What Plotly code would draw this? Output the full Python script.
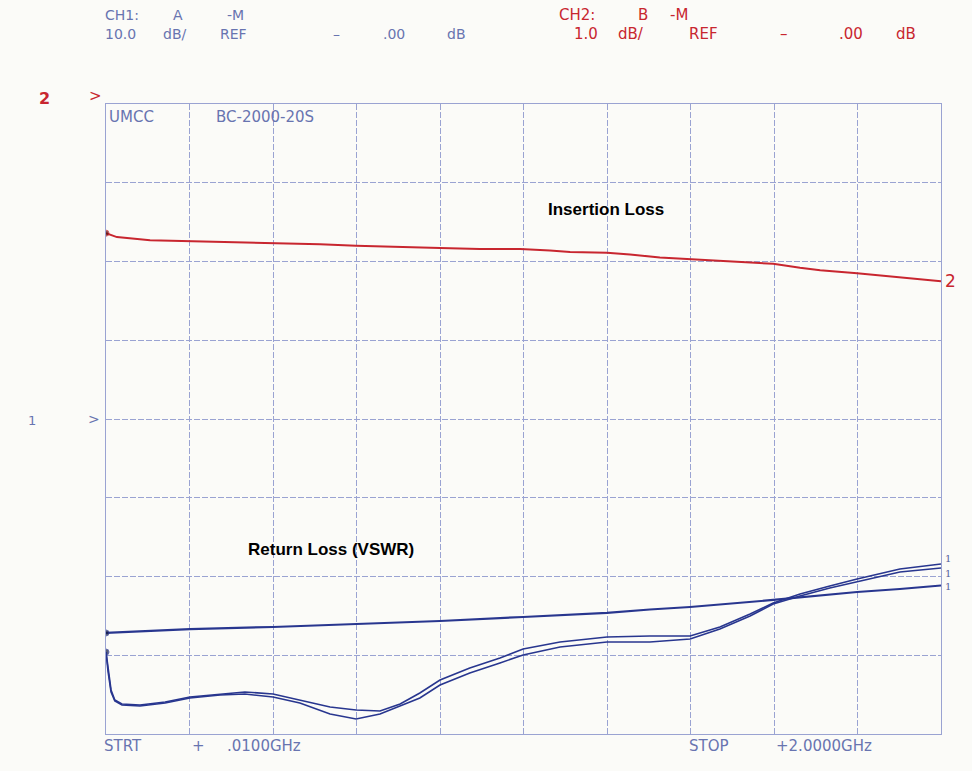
import plotly.graph_objects as go

# ---------------- data ----------------
# Insertion loss (CH2, 1 dB/div, ref 0 dB at top line)
il_freq_ghz = [0.010, 0.036, 0.115, 0.210, 0.306, 0.408, 0.520, 0.606, 0.711, 0.806,
               0.901, 0.997, 1.068, 1.116, 1.204, 1.259, 1.330, 1.402, 1.497, 1.600,
               1.664, 1.712, 1.800, 1.902, 2.000]
il_db = [-1.64, -1.69, -1.73, -1.74, -1.75, -1.77, -1.78, -1.80, -1.82, -1.83,
         -1.84, -1.84, -1.86, -1.88, -1.89, -1.91, -1.95, -1.97, -2.00, -2.03,
         -2.08, -2.11, -2.15, -2.20, -2.25]

# Return loss (CH1, 10 dB/div, ref 0 dB at centre line)
rl_a_freq_ghz = [0.010, 0.115, 0.210, 0.408, 0.606, 0.806, 1.004, 1.204, 1.306,
                 1.402, 1.600, 1.800, 1.902, 2.000]
rl_a_db = [-27.17, -26.92, -26.67, -26.41, -26.03, -25.65, -25.14, -24.63, -24.19,
           -23.87, -22.98, -21.97, -21.59, -21.14]

rl_freq_ghz = [0.010, 0.015, 0.022, 0.031, 0.048, 0.091, 0.151, 0.210, 0.282, 0.341,
               0.408, 0.472, 0.544, 0.606, 0.663, 0.711, 0.758, 0.806, 0.877, 0.949,
               1.004, 1.092, 1.204, 1.306, 1.402, 1.473, 1.545, 1.600, 1.664, 1.735,
               1.800, 1.902, 2.000]
rl_b_db = [-29.59, -31.87, -34.41, -35.68, -36.19, -36.32, -35.94, -35.30, -34.92, -34.67,
           -34.92, -35.68, -36.57, -36.95, -37.08, -36.19, -34.79, -33.14, -31.62, -30.35,
           -29.21, -28.32, -27.68, -27.56, -27.56, -26.41, -24.76, -23.37, -22.22, -21.21,
           -20.32, -19.05, -18.41]
rl_c_db = [-29.59, -32.13, -34.67, -35.81, -36.32, -36.44, -36.06, -35.43, -35.05, -34.92,
           -35.30, -36.06, -37.46, -38.10, -37.46, -36.44, -35.43, -33.78, -32.25, -30.98,
           -29.97, -28.95, -28.32, -28.32, -27.94, -26.67, -25.02, -23.49, -22.48, -21.46,
           -20.70, -19.43, -18.92]

start_ghz, stop_ghz = 0.01, 2.0
ch1_range = [-40, 40]
ch2_range = [-8, 0]

# ---------------- styling ----------------
W, H = 972, 771
L, R, T, B = 106, 31, 104, 37
PW, PH = W - L - R, H - T - B

RED = "#c8262f"
NAVY = "#28368f"
GRID = "#9aa3d2"
PEN = "#6874b0"


def px(x):
    return (x - L) / PW


def py(y):
    return (H - B - y) / PH


fig = go.Figure()

fig.add_trace(go.Scatter(x=il_freq_ghz, y=il_db, yaxis="y2", mode="lines+markers",
                         line=dict(color=RED, width=2),
                         marker=dict(size=[6] + [0] * (len(il_db) - 1), color="#5a1010"),
                         hoverinfo="skip", showlegend=False))
fig.add_trace(go.Scatter(x=rl_a_freq_ghz, y=rl_a_db, mode="lines+markers",
                         line=dict(color=NAVY, width=2.2),
                         marker=dict(size=[6] + [0] * (len(rl_a_db) - 1), color="#101840"),
                         hoverinfo="skip", showlegend=False))
fig.add_trace(go.Scatter(x=rl_freq_ghz, y=rl_b_db, mode="lines+markers",
                         line=dict(color=NAVY, width=1.6),
                         marker=dict(size=[6] + [0] * (len(rl_b_db) - 1), color="#101840"),
                         hoverinfo="skip", showlegend=False))
fig.add_trace(go.Scatter(x=rl_freq_ghz, y=rl_c_db, mode="lines",
                         line=dict(color=NAVY, width=1.6),
                         hoverinfo="skip", showlegend=False))

ann = []


def txt(s, x, y, size=15, color=PEN, family="DejaVu Sans", bold=False, anchor="left"):
    ann.append(dict(text=("<b>%s</b>" % s) if bold else s, x=px(x), y=py(y),
                    xref="paper", yref="paper", xanchor=anchor, yanchor="middle",
                    showarrow=False, borderpad=0,
                    font=dict(size=size, color=color, family=family)))


# header, CH1
for s, x in [("CH1:", 104), ("A", 172), ("-M", 226)]:
    txt(s, x, 15, 14, PEN)
for s, x in [("10.0", 104), ("dB/", 162), ("REF", 219), ("–", 332), (".00", 382), ("dB", 446)]:
    txt(s, x, 34, 14, PEN)
# header, CH2
for s, x in [("CH2:", 558), ("B", 637), ("-M", 669)]:
    txt(s, x, 15, 15, RED)
for s, x in [("1.0", 573), ("dB/", 617), ("REF", 688), ("–", 779), (".00", 838), ("dB", 895)]:
    txt(s, x, 34, 15, RED)

# reference position markers
txt("2", 38, 98, 16, RED, bold=True)
txt(">", 88, 96, 15, RED)
txt("1", 27, 420, 13, PEN)
txt(">", 87, 419, 14, PEN)

# title block inside the grid
txt("UMCC", 108, 117, 15, PEN)
txt("BC-2000-20S", 215, 117, 15, PEN)

# sweep limits
txt("STRT", 103, 746, 15, PEN)
txt("+", 191, 746, 15, PEN)
txt(".0100GHz", 226, 746, 15, PEN)
txt("STOP", 688, 746, 15, PEN)
txt("+2.0000GHz", 775, 746, 15, PEN)

# trace names
txt("Insertion Loss", 547, 210, 17, "#000000", family="Liberation Sans", bold=True)
txt("Return Loss (VSWR)", 247, 549, 17, "#000000", family="Liberation Sans", bold=True)

# trace end labels (at the trace end points)
ann.append(dict(text="2", x=il_freq_ghz[-1], y=il_db[-1], xref="x", yref="y2",
                xanchor="left", yanchor="middle", xshift=2, showarrow=False,
                font=dict(size=17, color=RED, family="DejaVu Sans")))
for yy, sh in [(rl_b_db[-1], 5), (rl_c_db[-1], -5), (rl_a_db[-1], -1)]:
    ann.append(dict(text="1", x=rl_freq_ghz[-1], y=yy, xref="x", yref="y",
                    xanchor="left", yanchor="middle", xshift=3, yshift=sh, showarrow=False,
                    borderpad=0,
                    font=dict(size=10, color="#55609a", family="DejaVu Serif")))

axis_common = dict(showticklabels=False, ticks="", zeroline=False,
                   showline=True, mirror=True, linecolor=GRID, linewidth=1)

fig.update_layout(
    width=W, height=H,
    margin=dict(l=L, r=R, t=T, b=B, pad=0),
    paper_bgcolor="#fbfbf8", plot_bgcolor="#fbfbf8",
    annotations=ann,
    xaxis=dict(range=[start_ghz, stop_ghz], tick0=start_ghz, dtick=(stop_ghz - start_ghz) / 10,
               showgrid=True, gridcolor=GRID, gridwidth=1, griddash="6px,2px", **axis_common),
    yaxis=dict(range=ch1_range, tick0=ch1_range[0], dtick=10,
               showgrid=True, gridcolor=GRID, gridwidth=1, griddash="6px,2px", **axis_common),
    yaxis2=dict(range=ch2_range, overlaying="y", side="right", showgrid=False,
                showticklabels=False, ticks="", zeroline=False, showline=False),
)

fig.write_html("out.html", config={"displayModeBar": False},
               post_script="document.body.style.margin='0';document.body.style.background='#fbfbf8';")
